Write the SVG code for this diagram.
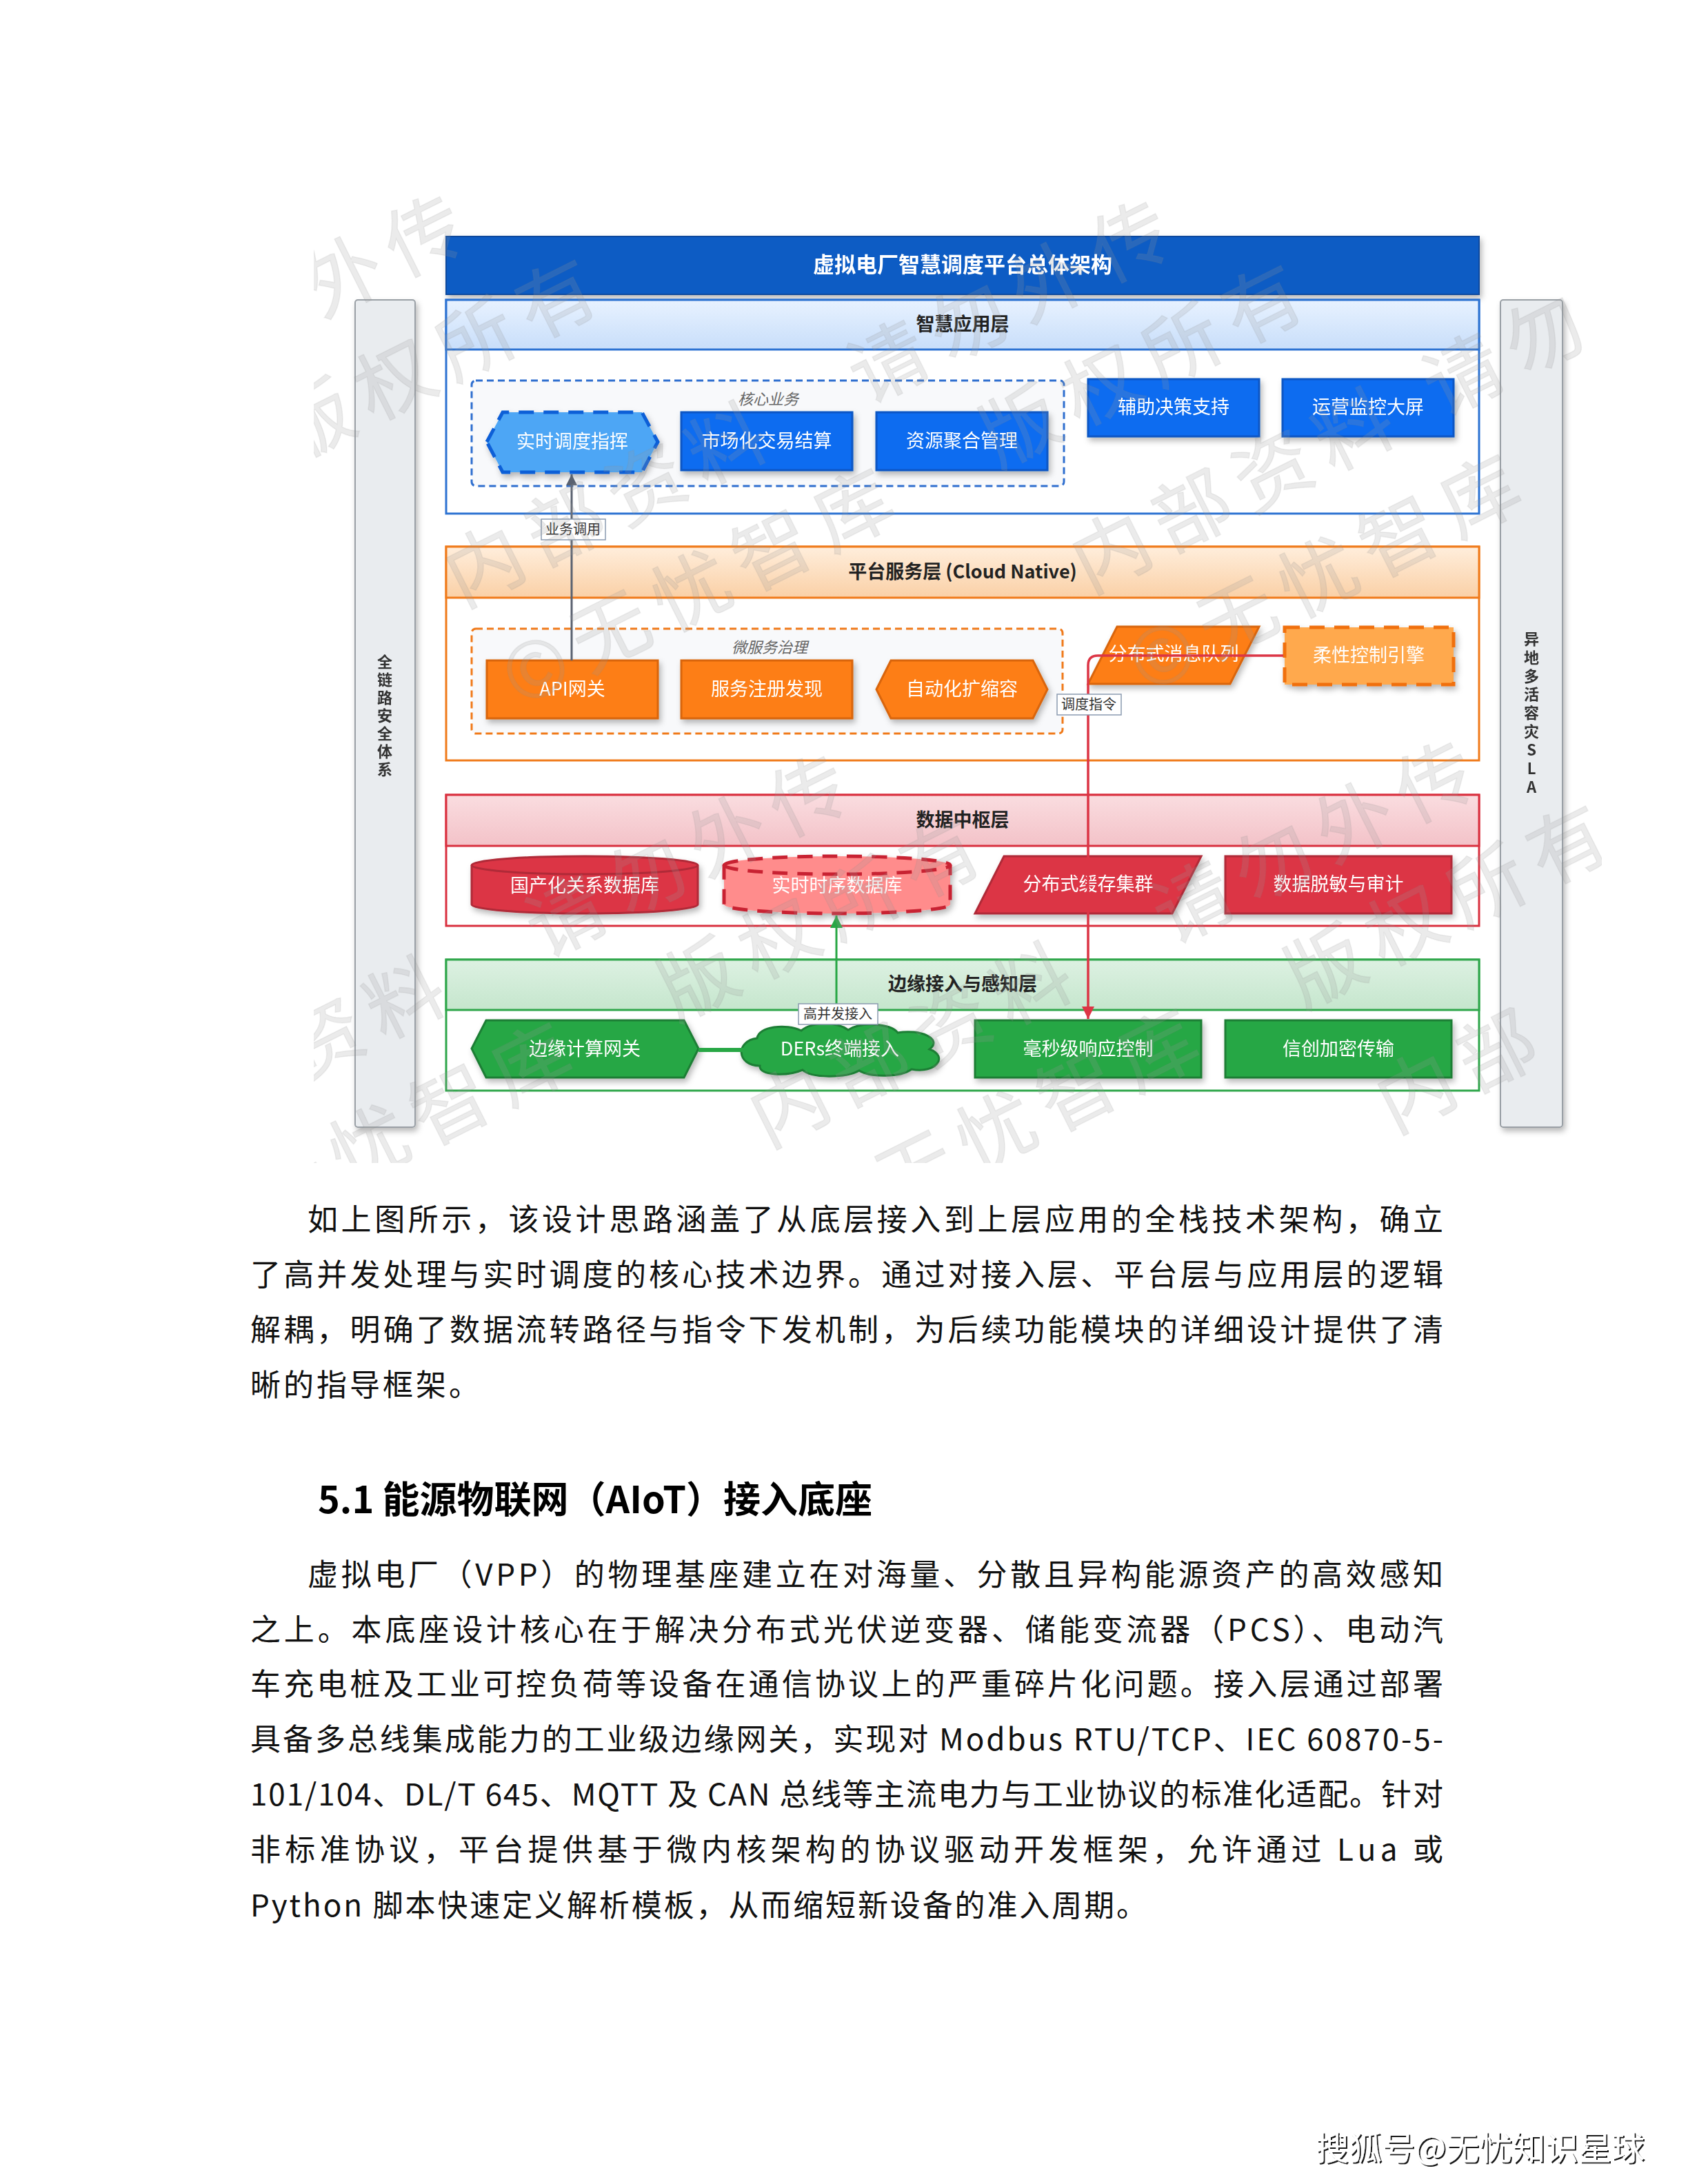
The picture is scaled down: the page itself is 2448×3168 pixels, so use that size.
<svg xmlns="http://www.w3.org/2000/svg" width="2448" height="3168" viewBox="0 0 2448 3168">
<style>
text{font-family:"Noto Sans CJK SC","Noto Sans",sans-serif}
.lbl{font-size:27px;fill:#fff;text-anchor:middle;dominant-baseline:central}
.hdr{font-size:27px;font-weight:bold;fill:#222;text-anchor:middle;dominant-baseline:central}
.grp{font-size:22px;font-style:italic;fill:#666;text-anchor:middle;dominant-baseline:central}
.tag{font-size:20px;fill:#333;text-anchor:middle;dominant-baseline:central}
.side{font-size:22px;font-weight:bold;fill:#333;text-anchor:middle;dominant-baseline:central}
.body{font-size:44px;fill:#111;dominant-baseline:central}
.blue{fill:#0B6CF0;stroke:#0A56C4;stroke-width:3}
.orange{fill:#FD7E14;stroke:#D9650B;stroke-width:3}
.red{fill:#DC3545;stroke:#B02A37;stroke-width:3}
.green{fill:#28A745;stroke:#1E7E34;stroke-width:3}
.tagbox{fill:#fff;stroke:#8A9BB0;stroke-width:1.5}
.wm{font-size:112px;letter-spacing:19px;fill:#9A9A9A;fill-opacity:0.2;stroke:#888;stroke-opacity:0.12;stroke-width:1.5;text-anchor:middle;dominant-baseline:central}
</style>
<defs>
<filter id="sh" x="-20%" y="-20%" width="140%" height="150%"><feDropShadow dx="3" dy="5" stdDeviation="4" flood-color="#000" flood-opacity="0.28"/></filter>
<filter id="tsh" x="-5%" y="-20%" width="110%" height="150%"><feDropShadow dx="2" dy="2" stdDeviation="0.6" flood-color="#000" flood-opacity="0.9"/></filter>
<linearGradient id="gBlue" x1="0" y1="0" x2="0" y2="1"><stop offset="0" stop-color="#E8F2FF"/><stop offset="1" stop-color="#C8DEFA"/></linearGradient>
<linearGradient id="gOrange" x1="0" y1="0" x2="0" y2="1"><stop offset="0" stop-color="#FFEEDC"/><stop offset="1" stop-color="#FAD0A6"/></linearGradient>
<linearGradient id="gRed" x1="0" y1="0" x2="0" y2="1"><stop offset="0" stop-color="#FADDE0"/><stop offset="1" stop-color="#F3C2C8"/></linearGradient>
<linearGradient id="gGreen" x1="0" y1="0" x2="0" y2="1"><stop offset="0" stop-color="#DDF1E2"/><stop offset="1" stop-color="#C5E6CD"/></linearGradient>
<clipPath id="wmclip"><rect x="455" y="283" width="1868" height="1404"/></clipPath>
<marker id="aGray" viewBox="0 0 10 10" refX="10" refY="5" markerWidth="16" markerHeight="16" markerUnits="userSpaceOnUse" orient="auto"><path d="M0,0 L10,5 L0,10 z" fill="#5A6270"/></marker>
<marker id="aRed" viewBox="0 0 10 10" refX="10" refY="5" markerWidth="18" markerHeight="18" markerUnits="userSpaceOnUse" orient="auto"><path d="M0,0 L10,5 L0,10 z" fill="#DC3545"/></marker>
<marker id="aGreen" viewBox="0 0 10 10" refX="10" refY="5" markerWidth="18" markerHeight="18" markerUnits="userSpaceOnUse" orient="auto"><path d="M0,0 L10,5 L0,10 z" fill="#28A745"/></marker>
</defs>
<rect width="2448" height="3168" fill="#fff"/>

<!-- side panels -->
<g id="panel-security" filter="url(#sh)">
<rect x="515" y="435" width="87" height="1200" rx="4" fill="#E9ECEF" stroke="#9AA0A6" stroke-width="2"/>
<text class="side"><tspan x="558" y="958">全</tspan><tspan x="558" y="984">链</tspan><tspan x="558" y="1010">路</tspan><tspan x="558" y="1036">安</tspan><tspan x="558" y="1062">全</tspan><tspan x="558" y="1088">体</tspan><tspan x="558" y="1114">系</tspan></text>
</g>
<g id="panel-sla" filter="url(#sh)">
<rect x="2176" y="435" width="90" height="1200" rx="4" fill="#E9ECEF" stroke="#9AA0A6" stroke-width="2"/>
<text class="side"><tspan x="2221" y="925">异</tspan><tspan x="2221" y="952">地</tspan><tspan x="2221" y="979">多</tspan><tspan x="2221" y="1005">活</tspan><tspan x="2221" y="1032">容</tspan><tspan x="2221" y="1059">灾</tspan><tspan x="2221" y="1086">S</tspan><tspan x="2221" y="1113">L</tspan><tspan x="2221" y="1140">A</tspan></text>
</g>

<!-- title -->
<g id="title" filter="url(#sh)">
<rect x="647" y="343" width="1498" height="84" fill="#0A5BC4" stroke="#094A9E" stroke-width="2"/>
<text x="1396" y="381" class="lbl" style="font-size:31px;font-weight:bold">虚拟电厂智慧调度平台总体架构</text>
</g>

<!-- layers -->
<g id="layer-app">
<rect x="647" y="435" width="1498" height="310" fill="#fff" stroke="#2D73D2" stroke-width="3"/>
<rect x="647" y="435" width="1498" height="72" fill="url(#gBlue)" stroke="#2D73D2" stroke-width="3"/>
<text x="1396" y="468" class="hdr">智慧应用层</text>
</g>
<g id="layer-platform">
<rect x="647" y="793" width="1498" height="310" fill="#fff" stroke="#F07A1A" stroke-width="3"/>
<rect x="647" y="793" width="1498" height="74" fill="url(#gOrange)" stroke="#F07A1A" stroke-width="3"/>
<text x="1396" y="827" class="hdr">平台服务层 (Cloud Native)</text>
</g>
<g id="layer-data">
<rect x="647" y="1153" width="1498" height="190" fill="#fff" stroke="#D9303F" stroke-width="3"/>
<rect x="647" y="1153" width="1498" height="74" fill="url(#gRed)" stroke="#D9303F" stroke-width="3"/>
<text x="1396" y="1187" class="hdr">数据中枢层</text>
</g>
<g id="layer-edge">
<rect x="647" y="1392" width="1498" height="190" fill="#fff" stroke="#2EA64A" stroke-width="3"/>
<rect x="647" y="1392" width="1498" height="73" fill="url(#gGreen)" stroke="#2EA64A" stroke-width="3"/>
<text x="1396" y="1425" class="hdr">边缘接入与感知层</text>
</g>

<!-- groups -->
<g id="group-core">
<rect x="684" y="552" width="859" height="153" rx="6" fill="#F8F9FB" stroke="#2F6FCF" stroke-width="3" stroke-dasharray="10 6"/>
<text x="1114" y="577" class="grp">核心业务</text>
</g>
<g id="group-micro">
<rect x="684" y="912" width="857" height="152" rx="6" fill="#F8F9FB" stroke="#F07A1A" stroke-width="3" stroke-dasharray="10 6"/>
<text x="1116" y="937" class="grp">微服务治理</text>
</g>

<!-- app nodes -->
<g id="n-dispatch" filter="url(#sh)">
<polygon points="706,641 729,598 931,598 954,641 931,685 729,685" fill="#4DA6F5" stroke="#0B5ED7" stroke-width="5" stroke-dasharray="22 14"/>
<text x="830" y="638" class="lbl">实时调度指挥</text>
</g>
<g id="n-market" filter="url(#sh)">
<rect x="988" y="598" width="248" height="84" class="blue"/>
<text x="1112" y="637" class="lbl">市场化交易结算</text>
</g>
<g id="n-aggregate" filter="url(#sh)">
<rect x="1271" y="598" width="248" height="84" class="blue"/>
<text x="1395" y="637" class="lbl">资源聚合管理</text>
</g>
<g id="n-decision" filter="url(#sh)">
<rect x="1578" y="550" width="248" height="83" class="blue"/>
<text x="1702" y="588" class="lbl">辅助决策支持</text>
</g>
<g id="n-screen" filter="url(#sh)">
<rect x="1860" y="550" width="248" height="83" class="blue"/>
<text x="1984" y="588" class="lbl">运营监控大屏</text>
</g>

<!-- platform nodes -->
<g id="n-api" filter="url(#sh)">
<rect x="706" y="958" width="248" height="84" class="orange"/>
<text x="830" y="997" class="lbl">API网关</text>
</g>
<g id="n-registry" filter="url(#sh)">
<rect x="988" y="958" width="248" height="84" class="orange"/>
<text x="1112" y="997" class="lbl">服务注册发现</text>
</g>
<g id="n-scale" filter="url(#sh)">
<polygon points="1271,1000 1292,958 1498,958 1519,1000 1498,1042 1292,1042" class="orange"/>
<text x="1395" y="997" class="lbl">自动化扩缩容</text>
</g>
<g id="n-mq" filter="url(#sh)">
<polygon points="1620,909 1826,909 1784,992 1578,992" class="orange"/>
<text x="1702" y="946" class="lbl">分布式消息队列</text>
</g>
<g id="n-flex" filter="url(#sh)">
<rect x="1863" y="910" width="245" height="83" fill="#FFA94D" stroke="#F07010" stroke-width="5" stroke-dasharray="22 14"/>
<text x="1985" y="948" class="lbl">柔性控制引擎</text>
</g>

<!-- data nodes -->
<g id="n-rdb" filter="url(#sh)">
<path d="M684,1255 a164,13 0 0,1 328,0 v57 a164,13 0 0,1 -328,0 z" class="red"/>
<path d="M684,1255 a164,13 0 0,0 328,0" fill="none" stroke="#B02A37" stroke-width="3"/>
<text x="848" y="1282" class="lbl">国产化关系数据库</text>
</g>
<g id="n-tsdb" filter="url(#sh)">
<path d="M1050,1255 a164,13 0 0,1 328,0 v57 a164,13 0 0,1 -328,0 z" fill="#FF8C8C" stroke="#C82333" stroke-width="5" stroke-dasharray="22 14"/>
<path d="M1050,1255 a164,13 0 0,0 328,0" fill="none" stroke="#C82333" stroke-width="5" stroke-dasharray="22 14"/>
<text x="1214" y="1282" class="lbl">实时时序数据库</text>
</g>
<g id="n-cache" filter="url(#sh)">
<polygon points="1456,1242 1742,1242 1700,1325 1414,1325" class="red"/>
<text x="1578" y="1280" class="lbl">分布式缓存集群</text>
</g>
<g id="n-audit" filter="url(#sh)">
<rect x="1777" y="1242" width="328" height="83" class="red"/>
<text x="1941" y="1280" class="lbl">数据脱敏与审计</text>
</g>

<!-- edge nodes -->
<g id="n-edgegw" filter="url(#sh)">
<polygon points="684,1521 705,1480 992,1480 1013,1521 992,1563 705,1563" class="green"/>
<text x="848" y="1519" class="lbl">边缘计算网关</text>
</g>
<g id="n-ders" filter="url(#sh)">
<path d="M1102,1546 C1068,1546 1066,1510 1098,1506 C1100,1489 1140,1484 1162,1495 C1177,1482 1214,1482 1230,1494 C1248,1482 1292,1484 1302,1498 C1334,1492 1368,1507 1348,1522 C1376,1532 1358,1558 1322,1551 C1306,1563 1262,1563 1246,1553 C1226,1564 1176,1564 1164,1552 C1140,1562 1100,1560 1102,1546 Z" class="green"/>
<text x="1218" y="1519" class="lbl">DERs终端接入</text>
</g>
<g id="n-ms" filter="url(#sh)">
<rect x="1414" y="1480" width="328" height="83" class="green"/>
<text x="1578" y="1519" class="lbl">毫秒级响应控制</text>
</g>
<g id="n-crypto" filter="url(#sh)">
<rect x="1777" y="1480" width="328" height="83" class="green"/>
<text x="1941" y="1519" class="lbl">信创加密传输</text>
</g>

<!-- connectors -->
<g id="connectors" fill="none">
<path d="M829,958 V688" stroke="#5A6270" stroke-width="3" marker-end="url(#aGray)"/>
<path d="M1861,951 H1592 Q1578,951 1578,965 V1478" stroke="#DC3545" stroke-width="3.5" marker-end="url(#aRed)"/>
<path d="M1213,1487 V1328" stroke="#28A745" stroke-width="3" marker-end="url(#aGreen)"/>
<path d="M1013,1523 H1078" stroke="#28A745" stroke-width="6"/>
<rect x="785" y="753" width="93" height="30" class="tagbox"/>
<text x="831" y="766" class="tag">业务调用</text>
<rect x="1533" y="1007" width="93" height="30" class="tagbox"/>
<text x="1579" y="1020" class="tag">调度指令</text>
<rect x="1158" y="1456" width="115" height="30" class="tagbox"/>
<text x="1215" y="1469" class="tag">高并发接入</text>
</g>

<!-- watermark -->
<g id="watermark" clip-path="url(#wmclip)" class="wm">
<text transform="translate(444 418) rotate(-26.6)">请勿外传</text>
<text transform="translate(636 510) rotate(-26.6)">版权所有</text>
<text transform="translate(883 720) rotate(-26.6)">内部资料</text>
<text transform="translate(1468 426) rotate(-26.6)">请勿外传</text>
<text transform="translate(1016 841) rotate(-26.6)">©无忧智库</text>
<text transform="translate(1660 518) rotate(-26.6)">版权所有</text>
<text transform="translate(1792 700) rotate(-26.6)">内部资料</text>
<text transform="translate(2185 503) rotate(-26.6)">请勿</text>
<text transform="translate(1925 821) rotate(-26.6)">©无忧智库</text>
<text transform="translate(416 1524) rotate(-26.6)">内部资料</text>
<text transform="translate(1001 1230) rotate(-26.6)">请勿外传</text>
<text transform="translate(549 1645) rotate(-26.6)">©无忧智库</text>
<text transform="translate(1193 1321) rotate(-26.6)">版权所有</text>
<text transform="translate(1325 1504) rotate(-26.6)">内部资料</text>
<text transform="translate(1910 1210) rotate(-26.6)">请勿外传</text>
<text transform="translate(1458 1625) rotate(-26.6)">©无忧智库</text>
<text transform="translate(2102 1302) rotate(-26.6)">版权所有</text>
<text transform="translate(2117 1542) rotate(-26.6)">内部</text>
</g>

<!-- body text -->
<g id="para1">
<text class="body" x="446" y="1766" textLength="1647" lengthAdjust="spacing">如上图所示，该设计思路涵盖了从底层接入到上层应用的全栈技术架构，确立</text>
<text class="body" x="363" y="1846" textLength="1730" lengthAdjust="spacing">了高并发处理与实时调度的核心技术边界。通过对接入层、平台层与应用层的逻辑</text>
<text class="body" x="363" y="1926" textLength="1730" lengthAdjust="spacing">解耦，明确了数据流转路径与指令下发机制，为后续功能模块的详细设计提供了清</text>
<text class="body" x="363" y="2006" style="letter-spacing:4px">晰的指导框架。</text>
</g>
<text id="heading" x="461" y="2171" style="font-size:54px;font-weight:bold;fill:#000;dominant-baseline:central">5.1 能源物联网（AIoT）接入底座</text>
<g id="para2">
<text class="body" x="446" y="2281" textLength="1647" lengthAdjust="spacing">虚拟电厂（VPP）的物理基座建立在对海量、分散且异构能源资产的高效感知</text>
<text class="body" x="363" y="2361" textLength="1730" lengthAdjust="spacing">之上。本底座设计核心在于解决分布式光伏逆变器、储能变流器（PCS）、电动汽</text>
<text class="body" x="363" y="2440" textLength="1730" lengthAdjust="spacing">车充电桩及工业可控负荷等设备在通信协议上的严重碎片化问题。接入层通过部署</text>
<text class="body" x="363" y="2520" textLength="1730" lengthAdjust="spacing">具备多总线集成能力的工业级边缘网关，实现对 Modbus RTU/TCP、IEC 60870-5-</text>
<text class="body" x="363" y="2600" textLength="1730" lengthAdjust="spacing">101/104、DL/T 645、MQTT 及 CAN 总线等主流电力与工业协议的标准化适配。针对</text>
<text class="body" x="363" y="2680" textLength="1730" lengthAdjust="spacing">非标准协议，平台提供基于微内核架构的协议驱动开发框架，允许通过 Lua 或</text>
<text class="body" x="363" y="2761" textLength="1300" lengthAdjust="spacing">Python 脚本快速定义解析模板，从而缩短新设备的准入周期。</text>
</g>
<text id="credit" x="1908" y="3112" filter="url(#tsh)" style="font-size:48px;fill:#fff;dominant-baseline:central" textLength="477" lengthAdjust="spacing">搜狐号@无忧知识星球</text>
</svg>
